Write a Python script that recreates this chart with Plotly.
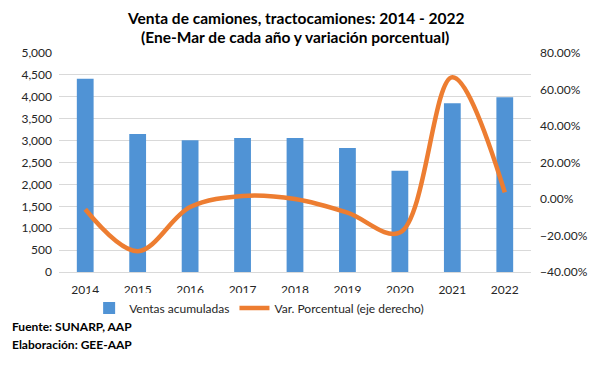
import plotly.graph_objects as go

years = ["2014", "2015", "2016", "2017", "2018", "2019", "2020", "2021", "2022"]
ventas = [4410, 3150, 3010, 3060, 3060, 2830, 2310, 3850, 3990]
variacion = [-0.056, -0.286, -0.044, 0.017, 0.000, -0.075, -0.184, 0.667, 0.036]

title_lines = ["Venta de camiones, tractocamiones: 2014 - 2022",
               "(Ene-Mar de cada año y variación porcentual)"]
footer_lines = ["Fuente: SUNARP, AAP", "Elaboración: GEE-AAP"]

FONT = "Lato"
fig = go.Figure()
fig.add_trace(go.Bar(
    x=years, y=ventas, name="Ventas acumuladas",
    marker=dict(color="#5093D5", line=dict(width=0)),
    yaxis="y",
))
fig.add_trace(go.Scatter(
    x=years, y=variacion, name="Var. Porcentual (eje derecho)",
    mode="lines", line=dict(color="#ED7D31", width=4.5, shape="spline", smoothing=1.0),
    yaxis="y2",
))

annotations = []
for txt, yy in zip(title_lines, [1.162, 1.071]):
    annotations.append(dict(text="<b>" + txt + "</b>", xref="paper", yref="paper",
                            x=0.5, y=yy, xanchor="center", yanchor="middle", showarrow=False,
                            font=dict(family=FONT, size=15.5, color="#000000")))
for txt, yy in zip(footer_lines, [-0.251, -0.329]):
    annotations.append(dict(text="<b>" + txt + "</b>", xref="paper", yref="paper",
                            x=-0.103, y=yy, xanchor="left", yanchor="middle", showarrow=False,
                            font=dict(family=FONT, size=12, color="#000000")))

fig.update_layout(
    width=612, height=366,
    margin=dict(l=58.75, r=80.75, t=53, b=94),
    paper_bgcolor="white", plot_bgcolor="white",
    font=dict(family=FONT, size=12, color="#262626"),
    bargap=0.68,
    showlegend=True,
    xaxis=dict(
        showgrid=False, showline=True, linecolor="#D9D9D9", linewidth=1,
        ticks="", ticklabelstandoff=7, tickfont=dict(size=12, color="#262626"),
    ),
    yaxis=dict(
        range=[0, 5000], dtick=500, tickformat=",",
        showgrid=True, gridcolor="#D9D9D9", gridwidth=1, zeroline=False,
        ticks="", ticklabelstandoff=6, tickfont=dict(size=12, color="#262626"),
    ),
    yaxis2=dict(
        range=[-0.4, 0.8], dtick=0.2, tickformat=".2%",
        overlaying="y", side="right", showgrid=False, zeroline=False,
        ticks="", ticklabelstandoff=8, tickfont=dict(size=12, color="#262626"),
    ),
    legend=dict(
        orientation="h", x=0.424, xanchor="center", y=-0.164, yanchor="middle",
        font=dict(size=12, color="#262626"), itemwidth=30, tracegroupgap=0,
        traceorder="normal",
    ),
    annotations=annotations,
)

fig.write_html("out.html", config={"displayModeBar": False},
               post_script="document.body.style.margin='0px';document.body.style.overflow='hidden';")
